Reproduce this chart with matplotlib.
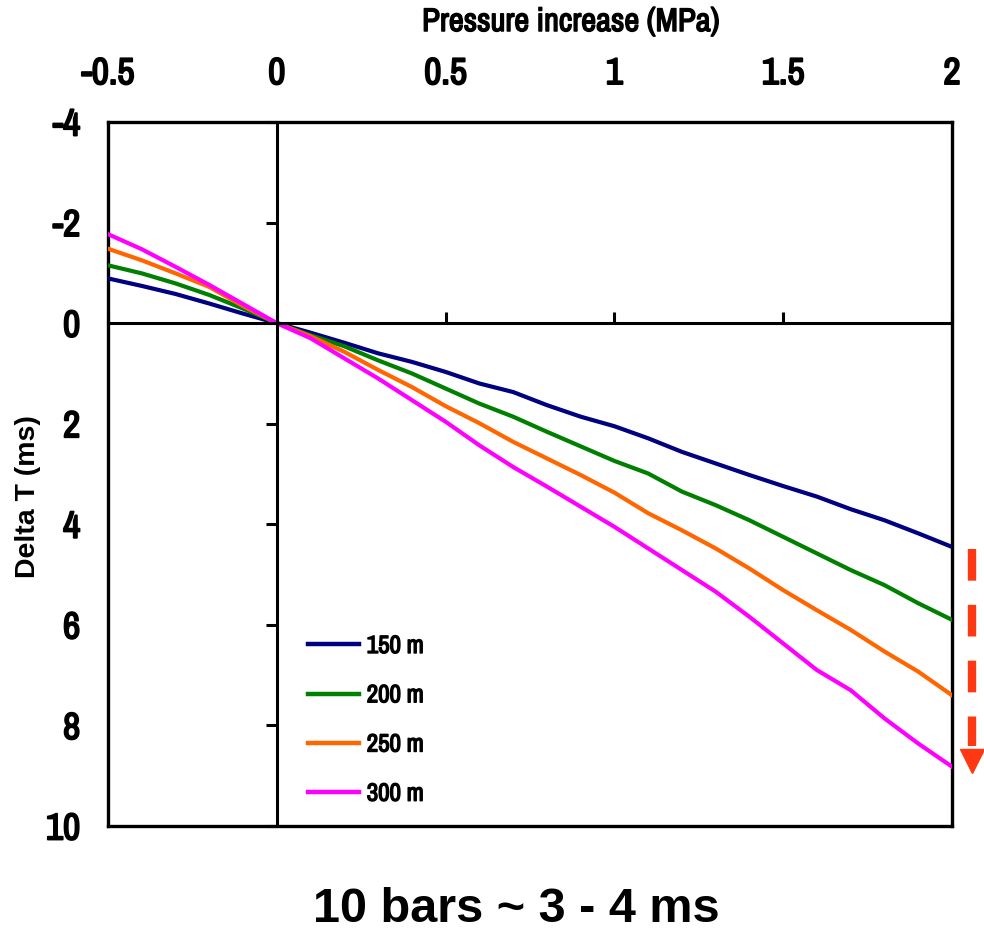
import matplotlib
matplotlib.use("Agg")
import matplotlib.pyplot as plt
import matplotlib.patheffects as pe
import numpy as np

# pressure increase (MPa) and travel-time change (ms) per depth
pressure = [-0.5, -0.4, -0.3, -0.2, -0.1, 0.0, 0.1, 0.2, 0.3, 0.4, 0.5,
            0.6, 0.7, 0.8, 0.9, 1.0, 1.1, 1.2, 1.3, 1.4, 1.5,
            1.6, 1.7, 1.8, 1.9, 2.0]
dt_150 = [-0.89, -0.74, -0.58, -0.39, -0.19, 0.0, 0.19, 0.39, 0.60, 0.77, 0.97,
          1.20, 1.37, 1.63, 1.86, 2.05, 2.29, 2.56, 2.79, 3.02, 3.24,
          3.45, 3.70, 3.92, 4.18, 4.45]
dt_200 = [-1.15, -0.99, -0.79, -0.56, -0.29, 0.0, 0.24, 0.46, 0.74, 1.00, 1.30,
          1.60, 1.86, 2.16, 2.45, 2.74, 2.99, 3.35, 3.62, 3.92, 4.25,
          4.58, 4.91, 5.21, 5.57, 5.90]
dt_250 = [-1.48, -1.25, -0.99, -0.72, -0.34, 0.0, 0.26, 0.57, 0.93, 1.27, 1.65,
          1.99, 2.36, 2.69, 3.02, 3.37, 3.78, 4.12, 4.48, 4.88, 5.31,
          5.71, 6.10, 6.53, 6.93, 7.40]
dt_300 = [-1.77, -1.47, -1.12, -0.76, -0.38, 0.0, 0.30, 0.70, 1.10, 1.53, 1.96,
          2.43, 2.86, 3.25, 3.65, 4.05, 4.48, 4.91, 5.34, 5.84, 6.37,
          6.90, 7.30, 7.86, 8.36, 8.82]
depths = ["150 m", "200 m", "250 m", "300 m"]
colors = ["#000080", "#008000", "#FF6600", "#FF00FF"]

xticks = [-0.5, 0, 0.5, 1, 1.5, 2]
xticklabels = ["-0.5", "0", "0.5", "1", "1.5", "2"]
yticks = [-4, -2, 0, 2, 4, 6, 8, 10]
yticklabels = ["-4", "-2", "0", "2", "4", "6", "8", "10"]

# first family found wins; plain Liberation Sans as last resort
narrow = ["Liberation Sans Narrow", "Arial Narrow", "Archivo Narrow",
          "Roboto Condensed", "PT Sans Narrow", "Liberation Sans"]
wide = ["Liberation Sans", "DejaVu Sans"]
# narrow face has no bold here, so thicken it with a stroke
heavy = [pe.withStroke(linewidth=1.35, foreground="black")]

fig = plt.figure(figsize=(9.84, 9.34), dpi=100)
rect = [108 / 984, 1 - 826 / 934, 844 / 984, 704 / 934]

ax = fig.add_axes(rect)
ax.set_xlim(-0.5, 2)
ax.set_ylim(10, -4)
for s in ax.spines.values():
    s.set_linewidth(2.4)
ax.xaxis.tick_top()
ax.set_xticks(xticks)
ax.set_xticklabels(xticklabels, family=narrow, fontsize=27, fontweight="bold")
ax.set_yticks(yticks)
ax.set_yticklabels(yticklabels, family=narrow, fontsize=27, fontweight="bold")
ax.tick_params(axis="x", length=0, pad=23)
ax.tick_params(axis="y", length=0, pad=20)
for t in ax.get_xticklabels() + ax.get_yticklabels():
    t.set_path_effects(heavy)

# second axes carries the zero lines with their own tick marks
ax0 = fig.add_axes(rect, sharex=ax, sharey=ax)
ax0.patch.set_visible(False)
for side in ["top", "right"]:
    ax0.spines[side].set_visible(False)
ax0.spines["left"].set_position(("data", 0))
ax0.spines["bottom"].set_position(("data", 0))
ax0.spines["left"].set_linewidth(2.2)
ax0.spines["bottom"].set_linewidth(2.2)
ax0.xaxis.set_ticks_position("bottom")
ax0.yaxis.set_ticks_position("left")
ax0.tick_params(axis="x", direction="in", length=8, width=2.2, labelbottom=False)
ax0.tick_params(axis="y", direction="out", length=8, width=2.2, labelleft=False)

series = [dt_150, dt_200, dt_250, dt_300]
for vals, lab, c in zip(series, depths, colors):
    ax0.plot(pressure, vals, color=c, lw=3.0, label=lab, solid_joinstyle="round")

leg = ax0.legend(loc="upper left", bbox_to_anchor=(308 / 984, 1 - 634 / 934),
                 bbox_transform=fig.transFigure, frameon=False,
                 prop={"family": narrow, "size": 18, "weight": "bold"},
                 handlelength=2.05, handletextpad=0.3, labelspacing=1.05,
                 borderpad=0, borderaxespad=0)
for h in leg.get_lines():
    h.set_linewidth(3.2)
for t in leg.get_texts():
    t.set_path_effects([pe.withStroke(linewidth=1.0, foreground="black")])

# dashed arrow showing the spread across depths at 2 MPa
x_arr = 2.058
ax0.plot([x_arr, x_arr], [dt_150[-1] + 0.05, dt_300[-1] - 0.42], color="#FF3814",
         lw=6, dashes=(3.8, 2.9), clip_on=False, solid_capstyle="butt")
ax0.plot([x_arr], [dt_300[-1] - 0.12], marker="v", markersize=17,
         color="#FF3814", clip_on=False)

title = fig.text(571 / 984, 1 - 22 / 934, "Pressure increase (MPa)", ha="center",
                 va="center", family=narrow, fontsize=23.5, fontweight="bold")
title.set_path_effects([pe.withStroke(linewidth=1.1, foreground="black")])
fig.text(28 / 984, 1 - 497 / 934, "Delta T (ms)", rotation=90, ha="center",
         va="center", family=wide, fontsize=20.5, fontweight="bold")
fig.text(516 / 984, 1 - 910 / 934, "10 bars ~ 3 - 4 ms", ha="center",
         va="center", family=wide, fontsize=35, fontweight="bold")

fig.savefig("out.png", dpi=100)
